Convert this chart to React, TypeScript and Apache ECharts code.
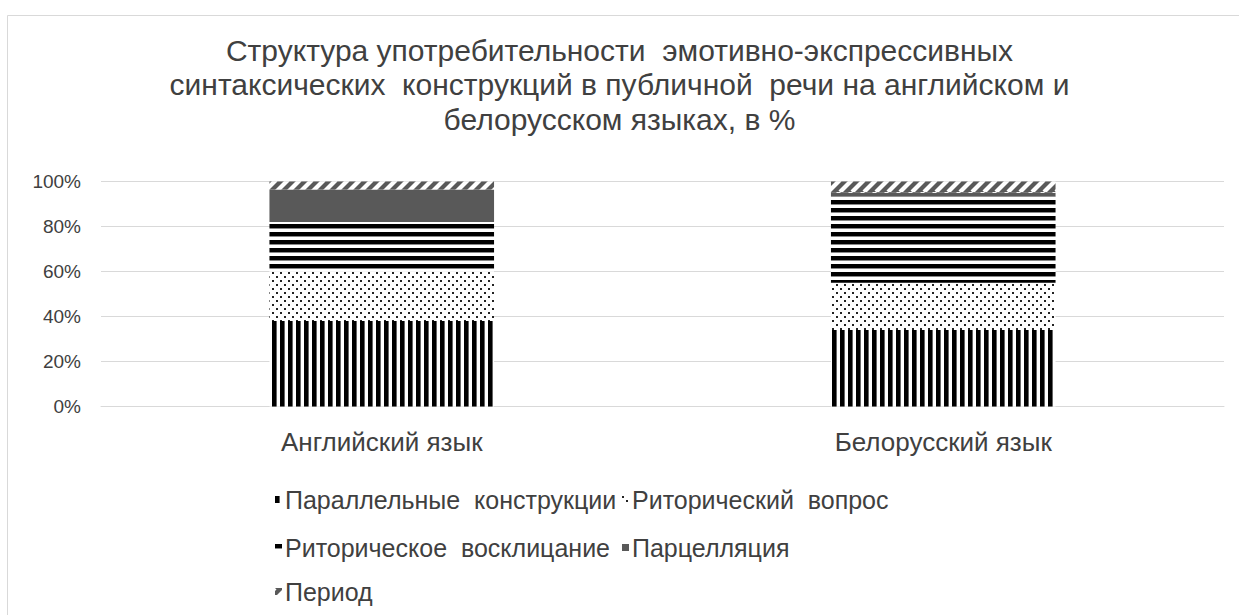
import React, { useEffect, useRef } from "react";
import * as echarts from "echarts";

const categories = ["Английский язык", "Белорусский язык"];
const seriesNames = [
  "Параллельные  конструкции",
  "Риторический  вопрос",
  "Риторическое  восклицание",
  "Парцелляция",
  "Период",
];
const parallel = [38, 34];
const question = [22, 21];
const exclamation = [22, 38.5];
const parcellation = [14.5, 1.5];
const period = [3.5, 5];
const yTicks = [0, 20, 40, 60, 80, 100];
const titleText =
  "Структура употребительности  эмотивно-экспрессивных\nсинтаксических  конструкций в публичной  речи на английском и\nбелорусском языках, в %";

const FONT = "'Liberation Sans', Arial, sans-serif";
const TEXT = "#404040";

function makeCanvas(w: number, h: number, draw: (ctx: CanvasRenderingContext2D) => void) {
  const c = document.createElement("canvas");
  c.width = w;
  c.height = h;
  const ctx = c.getContext("2d")!;
  ctx.fillStyle = "#ffffff";
  ctx.fillRect(0, 0, w, h);
  draw(ctx);
  return { image: c, repeat: "repeat", imageWidth: w, imageHeight: h } as any;
}

function patterns() {
  const vertical = makeCanvas(8, 8, (ctx) => {
    ctx.fillStyle = "#000";
    ctx.fillRect(0, 0, 4, 8);
    ctx.fillStyle = "#666";
    ctx.fillRect(4, 0, 1, 8);
  });
  const dots = makeCanvas(8, 8, (ctx) => {
    ctx.fillStyle = "#222";
    ctx.fillRect(0, 0, 2, 2);
    ctx.fillRect(4, 4, 2, 2);
  });
  const horizontal = makeCanvas(8, 8, (ctx) => {
    ctx.fillStyle = "#000";
    ctx.fillRect(0, 0, 8, 4);
    ctx.fillStyle = "#888";
    ctx.fillRect(0, 4, 8, 1);
  });
  const diag = makeCanvas(12, 12, (ctx) => {
    const N = 12;
    ctx.fillStyle = "#595959";
    ctx.fillRect(0, 0, N, N);
    ctx.strokeStyle = "#ffffff";
    ctx.lineWidth = 4.2;
    for (let k = -1; k <= 1; k++) {
      ctx.beginPath();
      ctx.moveTo(k * N, N);
      ctx.lineTo(k * N + N, 0);
      ctx.stroke();
    }
  });
  return [vertical, dots, horizontal, "#595959", diag];
}

export default function App() {
  const ref = useRef<HTMLDivElement>(null);
  useEffect(() => {
    if (!ref.current) return;
    const chart = echarts.init(ref.current, null, { renderer: "svg" });
    const fills = patterns();
    const dataSets = [parallel, question, exclamation, parcellation, period];
    const legendPos = [
      { left: 275, top: 487 },
      { left: 622, top: 487 },
      { left: 275, top: 535 },
      { left: 622, top: 535 },
      { left: 275, top: 579 },
    ];
    const option: any = {
      animation: false,
      backgroundColor: "#ffffff",
      title: {
        text: titleText,
        left: "center",
        top: 28,
        textStyle: {
          fontFamily: FONT,
          fontSize: 30,
          fontWeight: "normal",
          color: TEXT,
          lineHeight: 34.5,
        },
      },
      legend: seriesNames.map((n, i) => ({
        data: [n],
        left: legendPos[i].left,
        top: legendPos[i].top,
        icon: "rect",
        itemWidth: 7,
        itemHeight: 7,
        itemGap: 4,
        padding: 0,
        selectedMode: false,
        textStyle: { fontFamily: FONT, fontSize: 25, color: TEXT, padding: [0, 0, 0, -2] },
      })),
      grid: { left: 101, right: 15, top: 181.5, bottom: 208.5, containLabel: false },
      xAxis: {
        type: "category",
        data: categories,
        axisTick: { show: false },
        axisLine: { lineStyle: { color: "#d9d9d9", width: 1 } },
        axisLabel: { fontFamily: FONT, fontSize: 26, color: TEXT, margin: 22 },
      },
      yAxis: {
        type: "value",
        min: yTicks[0],
        max: yTicks[yTicks.length - 1],
        interval: 20,
        axisLine: { show: false },
        axisTick: { show: false },
        splitLine: { lineStyle: { color: "#d9d9d9", width: 1 } },
        axisLabel: { fontFamily: FONT, fontSize: 19, color: TEXT, margin: 20, formatter: "{value}%" },
      },
      graphic: [
        {
          type: "rect",
          shape: { x: 7.5, y: 15.5, width: 1400, height: 800 },
          style: { fill: "none", stroke: "#d9d9d9", lineWidth: 1 },
          silent: true,
          z: -10,
        },
      ],
      series: seriesNames.map((n, i) => ({
        name: n,
        type: "bar",
        stack: "total",
        barWidth: "40%",
        data: dataSets[i],
        itemStyle: { color: fills[i] },
      })),
    };
    chart.setOption(option);
    return () => chart.dispose();
  }, []);
  return (
    <div
      ref={ref}
      style={{ position: "fixed", left: 0, top: 0, width: 1239, height: 615, background: "#fff" }}
    />
  );
}
